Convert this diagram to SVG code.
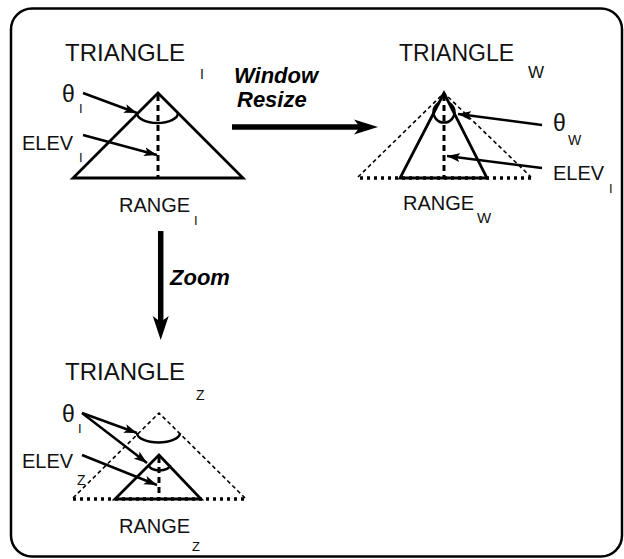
<svg xmlns="http://www.w3.org/2000/svg" width="624" height="559" viewBox="0 0 624 559">
<style>
.t{font-family:"Liberation Sans",Arial,sans-serif;fill:#111;}
.lbl{font-size:24px;}
.sub{font-size:14px;}
.act{font-family:"Liberation Sans",Arial,sans-serif;font-weight:bold;font-style:italic;font-size:22px;fill:#000;}
.solid{fill:none;stroke:#000;stroke-width:2.8;stroke-linejoin:miter;}
.vdash{fill:none;stroke:#000;stroke-width:3;stroke-dasharray:6 4;}
.thin{fill:none;stroke:#000;stroke-width:1.6;stroke-dasharray:4 3;}
.dots{fill:none;stroke:#000;stroke-width:3.5;stroke-dasharray:3 4;}
.arc{fill:none;stroke:#000;stroke-width:2.5;}
.ptr{fill:none;stroke:#000;stroke-width:2.5;marker-end:url(#ah);}
.big{fill:none;stroke:#000;stroke-width:5.5;}
</style>
<defs>
<marker id="ah" markerUnits="userSpaceOnUse" markerWidth="14" markerHeight="10" refX="13" refY="5" orient="auto">
<path d="M0,0.5 L13,5 L0,9.5 L3,5 z" fill="#000"/>
</marker>
</defs>
<rect x="11" y="8.5" width="611" height="548" rx="21" ry="21" fill="#fff" stroke="#000" stroke-width="2.5"/>

<g id="triangle-i">
<path class="solid" d="M158,93 L73,178 L243,178 Z"/>
<path class="vdash" d="M158,95 L158,178"/>
<path class="arc" d="M137,113 A20.5 10 0 0 0 178,113"/>
<text class="t lbl" x="65" y="61">TRIANGLE</text>
<text class="t sub" x="200" y="79">I</text>
<text class="t" x="62" y="102" font-size="23">θ</text>
<text class="t" x="79" y="113" font-size="13">I</text>
<text class="t" x="22" y="150" font-size="20">ELEV</text>
<text class="t" x="79" y="162" font-size="13">I</text>
<text class="t" x="119" y="212" font-size="20">RANGE</text>
<text class="t" x="194" y="225" font-size="13">I</text>
</g>

<g id="triangle-w">
<path class="thin" d="M358,177 L444,93 L531,177"/>
<path class="dots" d="M360,178 L531,178"/>
<path class="solid" d="M444,93 L400,178 L487,178 Z"/>
<path class="vdash" d="M444,95 L444,178"/>
<path class="arc" d="M438.8,103 A10.5 10.5 0 1 0 449.2,103"/>
<text class="t" x="399" y="61" font-size="23">TRIANGLE</text>
<text class="t" x="528" y="78" font-size="17">W</text>
<text class="t" x="553" y="131" font-size="23">θ</text>
<text class="t" x="568" y="145" font-size="14">W</text>
<text class="t" x="553" y="180" font-size="20">ELEV</text>
<text class="t" x="609" y="193" font-size="13">I</text>
<text class="t" x="403" y="210" font-size="20">RANGE</text>
<text class="t" x="477" y="223" font-size="15">W</text>
</g>

<g id="triangle-z">
<path class="thin" d="M73,498 L159,413 L245,498"/>
<path class="dots" d="M73,499 L247,499"/>
<path class="arc" d="M137,433 A21.5 9.5 0 0 0 180,433"/>
<path class="solid" d="M159,455 L115,499 L201,499 Z"/>
<path class="vdash" d="M159,457 L159,499"/>
<path class="arc" d="M149,465 A10.5 5.5 0 0 0 170,465"/>
<text class="t lbl" x="65" y="380">TRIANGLE</text>
<text class="t sub" x="196" y="400">Z</text>
<text class="t" x="62" y="422" font-size="23">θ</text>
<text class="t" x="78" y="433" font-size="13">I</text>
<text class="t" x="22" y="468" font-size="20">ELEV</text>
<text class="t" x="77" y="485" font-size="14">Z</text>
<text class="t" x="119" y="533" font-size="20">RANGE</text>
<text class="t" x="192" y="551" font-size="13">Z</text>
</g>

<g id="connectors">
<path class="ptr" d="M83,93 L137,113"/>
<path class="ptr" d="M83,135 L157,155"/>
<path class="ptr" d="M542,125 L458,114"/>
<path class="ptr" d="M542,168 L447,156"/>
<path class="ptr" d="M82,413 L137,433"/>
<path class="ptr" d="M82,413 L147,463"/>
<path class="ptr" d="M82,455 L157,485"/>
<path class="big" d="M232,127 L362,127"/>
<path d="M378,127 L354,119.5 L360,127 L354,134.5 Z" fill="#000"/>
<path class="big" d="M160.7,231 L160.7,324"/>
<path d="M160.7,340 L152.7,316 L160.7,322 L168.7,316 Z" fill="#000"/>
<text class="act" x="234" y="83">Window</text>
<text class="act" x="237" y="107">Resize</text>
<text class="act" x="170" y="285" font-size="24">Zoom</text>
</g>
</svg>
